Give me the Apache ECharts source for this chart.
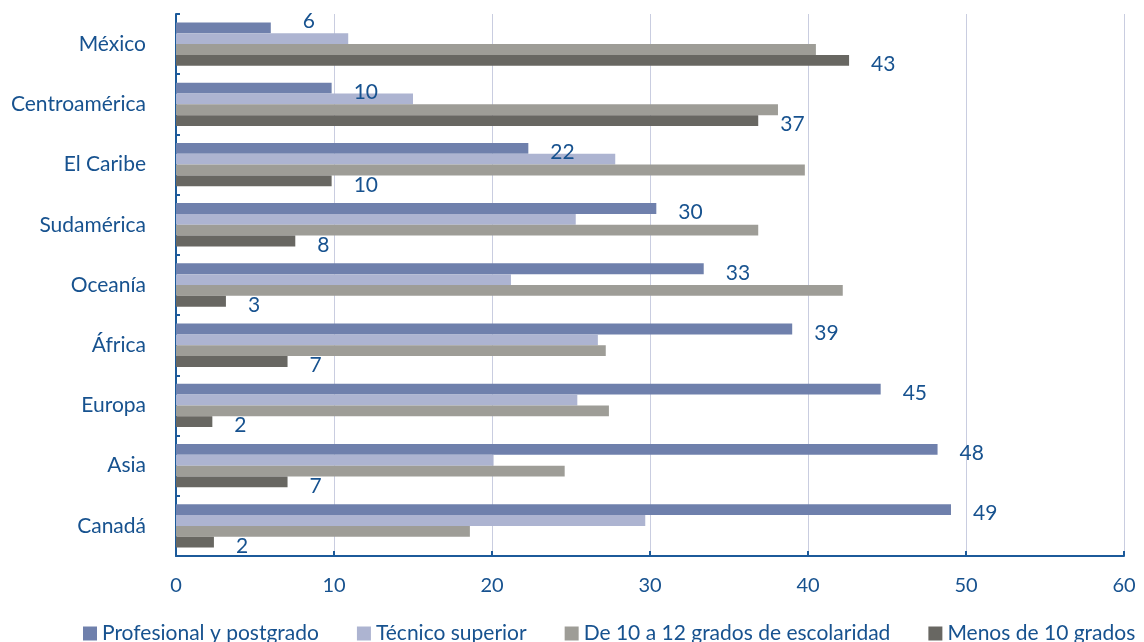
<!DOCTYPE html>
<html>
<head>
<meta charset="utf-8">
<script src="https://cdn.jsdelivr.net/npm/echarts@6/dist/echarts.min.js"></script>
<style>
html,body{margin:0;padding:0;background:#fff;}
#chart{width:1144px;height:642px;}
</style>
</head>
<body>
<div id="chart"></div>
<script>
const categories = ["México","Centroamérica","El Caribe","Sudamérica","Oceanía","África","Europa","Asia","Canadá"];
const seriesNames = ["Profesional y postgrado","Técnico superior","De 10 a 12 grados de escolaridad","Menos de 10 grados"];
const profesional = [6.0, 9.85, 22.3, 30.4, 33.4, 39.0, 44.6, 48.2, 49.05];
const tecnico     = [10.9, 15.0, 27.8, 25.3, 21.2, 26.7, 25.4, 20.1, 29.7];
const deDiezADoce = [40.5, 38.1, 39.8, 36.85, 42.2, 27.2, 27.4, 24.6, 18.6];
const menosDeDiez = [42.6, 36.85, 9.85, 7.55, 3.16, 7.06, 2.3, 7.06, 2.4];
const xTicks = [0, 10, 20, 30, 40, 50, 60];

const colors = ["#6f80ac", "#adb4d1", "#9e9d97", "#686762"];
const textColor = "#17528f";
const axisColor = "#1c5a9a";
const fontFam = "Lato, 'Open Sans', sans-serif";

const chart = echarts.init(document.getElementById('chart'), null, {renderer:'canvas'});

function labelled(values, special) {
  return values.map((v, i) => {
    const item = { value: v };
    if (special && special[i]) item.label = { offset: special[i] };
    return item;
  });
}

const labelBase = {
  show: true,
  position: 'right',
  distance: 22,
  offset: [0, 4],
  color: textColor,
  fontFamily: fontFam,
  fontSize: 21,
  formatter: p => Math.round(p.value)
};

const option = {
  animation: false,
  color: colors,
  textStyle: { fontFamily: fontFam },
  grid: { left: 176, right: 20, top: 14, bottom: 86, containLabel: false },
  xAxis: {
    type: 'value',
    min: xTicks[0],
    max: xTicks[xTicks.length - 1],
    interval: 10,
    axisLine: { show: true, lineStyle: { color: axisColor, width: 2 } },
    axisTick: { show: true, inside: true, length: 5, lineStyle: { color: axisColor, width: 2 } },
    axisLabel: { color: textColor, fontSize: 20, fontFamily: fontFam, margin: 20 },
    splitLine: { show: true, lineStyle: { color: '#c9cde0', width: 1 } }
  },
  yAxis: {
    type: 'category',
    data: categories,
    inverse: true,
    axisLine: { show: true, lineStyle: { color: axisColor, width: 2 } },
    axisTick: { show: true, inside: true, length: 4, lineStyle: { color: axisColor, width: 2 } },
    axisLabel: { color: textColor, fontSize: 21, fontFamily: fontFam, margin: 30, padding: [4, 0, 0, 0] },
    splitLine: { show: false }
  },
  legend: {
    top: 618,
    left: 78,
    width: 1400,
    orient: 'horizontal',
    itemWidth: 14,
    itemHeight: 14,
    itemGap: 38,
    icon: 'rect',
    textStyle: { color: textColor, fontSize: 21, fontFamily: fontFam },
    data: seriesNames
  },
  series: [
    { name: seriesNames[0], type: 'bar', data: labelled(profesional, {0: [10, -7]}), barGap: '0%', barCategoryGap: '28%', label: labelBase },
    { name: seriesNames[1], type: 'bar', data: tecnico, barGap: '0%', barCategoryGap: '28%' },
    { name: seriesNames[2], type: 'bar', data: deDiezADoce, barGap: '0%', barCategoryGap: '28%' },
    { name: seriesNames[3], type: 'bar', data: menosDeDiez, barGap: '0%', barCategoryGap: '28%', label: labelBase }
  ]
};
chart.setOption(option);
</script>
</body>
</html>
